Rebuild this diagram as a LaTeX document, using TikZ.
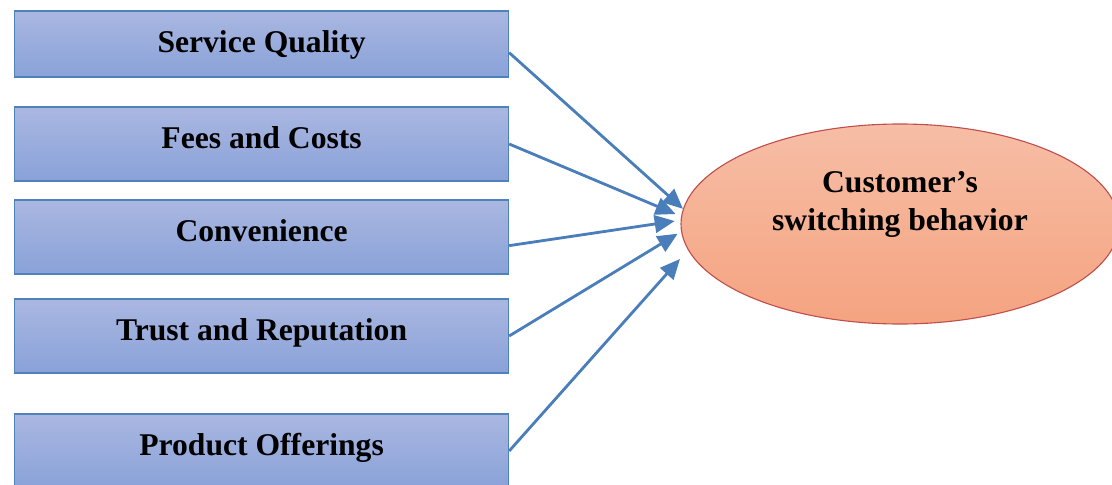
\documentclass[tikz,border=0pt]{standalone}
\usepackage{fontspec}
\setmainfont{Liberation Serif}
\usetikzlibrary{positioning,shapes.geometric,arrows.meta}
\definecolor{boxtop}{RGB}{170,183,225}
\definecolor{boxbot}{RGB}{137,162,216}
\definecolor{boxline}{RGB}{79,129,189}
\definecolor{elltop}{RGB}{246,190,166}
\definecolor{ellbot}{RGB}{245,163,128}
\definecolor{ellline}{RGB}{192,80,77}
\definecolor{arrline}{RGB}{74,126,187}
\tikzset{
factor/.style={rectangle, draw=boxline, line width=0.8pt, top color=boxtop, bottom color=boxbot,
    minimum width=12.35cm, minimum height=1.85cm, inner sep=0pt,
    font=\fontsize{22.5}{27}\selectfont\bfseries, text height=0.66em, text depth=0pt}, % factor boxes
outcome/.style={ellipse, draw=ellline, line width=0.8pt, top color=elltop, bottom color=ellbot,
    minimum width=10.95cm, minimum height=5cm, inner sep=0pt},
infl/.style={-{Triangle[length=5mm,width=4.4mm]}, draw=arrline, line width=2pt},
}

\begin{document}
\begin{tikzpicture}[on grid]
        \useasboundingbox (0,0) rectangle (27.8,-12.125);
        \node[factor, minimum height=1.65cm, text height=11.4pt] (sq) at (6.54,-1.1) {Service Quality};
        \node[factor] (fc) [below=2.5cm of sq]   {Fees and Costs};
        \node[factor] (cv) [below=2.325cm of fc] {Convenience};
        \node[factor] (tr) [below=2.475cm of cv] {Trust and Reputation};
        \node[factor] (po) [below=2.875cm of tr] {Product Offerings};
        \node[outcome] (csb) at (22.5,-5.6) {};
        \node[font=\fontsize{22.5}{27}\selectfont\bfseries, align=center] (csb_label) [above=0.5cm of csb] {Customer’s\\switching behavior};
        \path
        (sq.-2.5) edge[infl] (csb.176)
        (fc.east) edge[infl, shorten >=0.15cm] (csb.178)
        (cv.-2.3) edge[infl, shorten >=0.15cm] (csb.179)
        (tr.east) edge[infl, shorten >=0.1cm] (csb.182)
        (po.east) edge[infl, shorten >=0.3cm] (csb.187);
\end{tikzpicture}
\end{document}
